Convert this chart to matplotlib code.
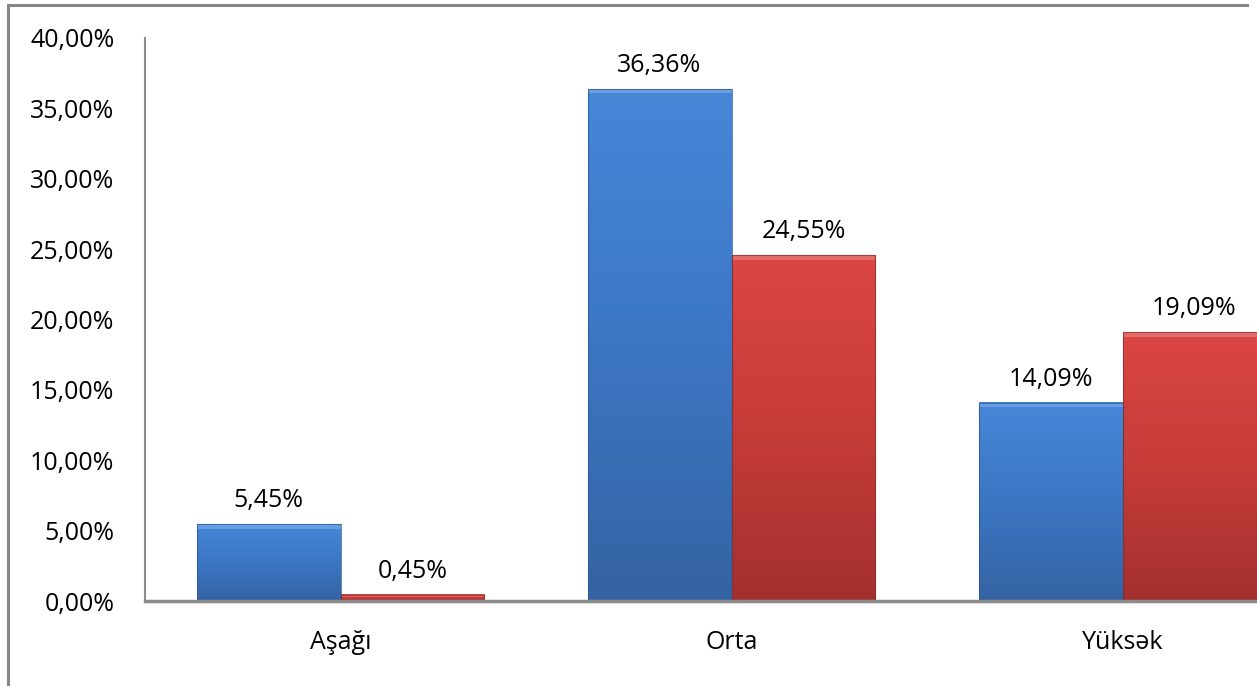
import numpy as np
import matplotlib
matplotlib.use("Agg")
import matplotlib.pyplot as plt
from matplotlib.patches import Rectangle
from matplotlib.lines import Line2D
from matplotlib.colors import LinearSegmentedColormap

# === DATA ===
categories = ["Aşağı", "Orta", "Yüksək"]
series_blue = [5.45, 36.36, 14.09]
series_red = [0.45, 24.55, 19.09]
y_ticks = [0, 5, 10, 15, 20, 25, 30, 35, 40]

plt.rcParams["font.family"] = ["Open Sans", "DejaVu Sans"]

W, H = 1257, 686
fig = plt.figure(figsize=(W / 100, H / 100), dpi=100)

# axes spans past the right edge (the source picture is cropped)
left, bottom, top = 145, 601, 38
slot = 391
right = left + 3 * slot
ax = fig.add_axes([left / W, 1 - bottom / H, (right - left) / W, (bottom - top) / H])

bar_w = 0.368
blue_map = LinearSegmentedColormap.from_list("b", ["#3463a3", "#3c76c3", "#4687d8"])
red_map = LinearSegmentedColormap.from_list("r", ["#a3302e", "#c63c39", "#da4643"])
grad = np.linspace(0, 1, 256).reshape(-1, 1)


def draw_bar(x0, h, cmap, edge, hi):
    ax.imshow(grad, extent=[x0, x0 + bar_w, 0, h], origin="lower", aspect="auto",
              cmap=cmap, zorder=2, interpolation="bicubic")
    # bevel: light top strip, dark outline
    strip = min(0.3, h * 0.4)
    ax.add_patch(Rectangle((x0, h - strip), bar_w, strip, facecolor=hi,
                           alpha=0.5, edgecolor="none", zorder=3))
    ax.add_patch(Rectangle((x0, 0), bar_w, h, facecolor="none",
                           edgecolor=edge, linewidth=0.8, alpha=0.7, zorder=4))


fmt = lambda v: f"{v:.2f}%".replace(".", ",")

for i, (b, r) in enumerate(zip(series_blue, series_red)):
    draw_bar(i - bar_w, b, blue_map, "#2e568c", "#8ab8ee")
    draw_bar(i, r, red_map, "#8c2a28", "#f09490")
    ax.annotate(fmt(b), (i - bar_w / 2, b), xytext=(0, 8), textcoords="offset points",
                ha="center", va="bottom", fontsize=18, color="#000000")
    ax.annotate(fmt(r), (i + bar_w / 2, r), xytext=(0, 8), textcoords="offset points",
                ha="center", va="bottom", fontsize=18, color="#000000")

ax.set_xlim(-0.5, 2.5)
ax.set_ylim(0, 40)
ax.set_yticks(y_ticks)
ax.set_yticklabels([fmt(v) for v in y_ticks], fontsize=18)
ax.set_xticks(range(len(categories)))
ax.set_xticklabels(categories, fontsize=18)
ax.tick_params(axis="y", length=0, pad=22)
ax.tick_params(axis="x", length=0, pad=21)

for s in ["top", "right"]:
    ax.spines[s].set_visible(False)
ax.spines["left"].set_color("#8c8c8c")
ax.spines["left"].set_linewidth(1.5)
ax.spines["bottom"].set_color("#8c8c8c")
ax.spines["bottom"].set_linewidth(2.5)
ax.spines["bottom"].set_zorder(5)

# outer chart border (left and top visible in the crop)
fig.add_artist(Line2D([8 / W, 8 / W], [0, 1 - 5 / H], color="#878787", linewidth=2.2))
fig.add_artist(Line2D([8 / W, 1247 / W], [1 - 5 / H, 1 - 5 / H], color="#878787", linewidth=2.2))

fig.savefig("out.png", dpi=100)
